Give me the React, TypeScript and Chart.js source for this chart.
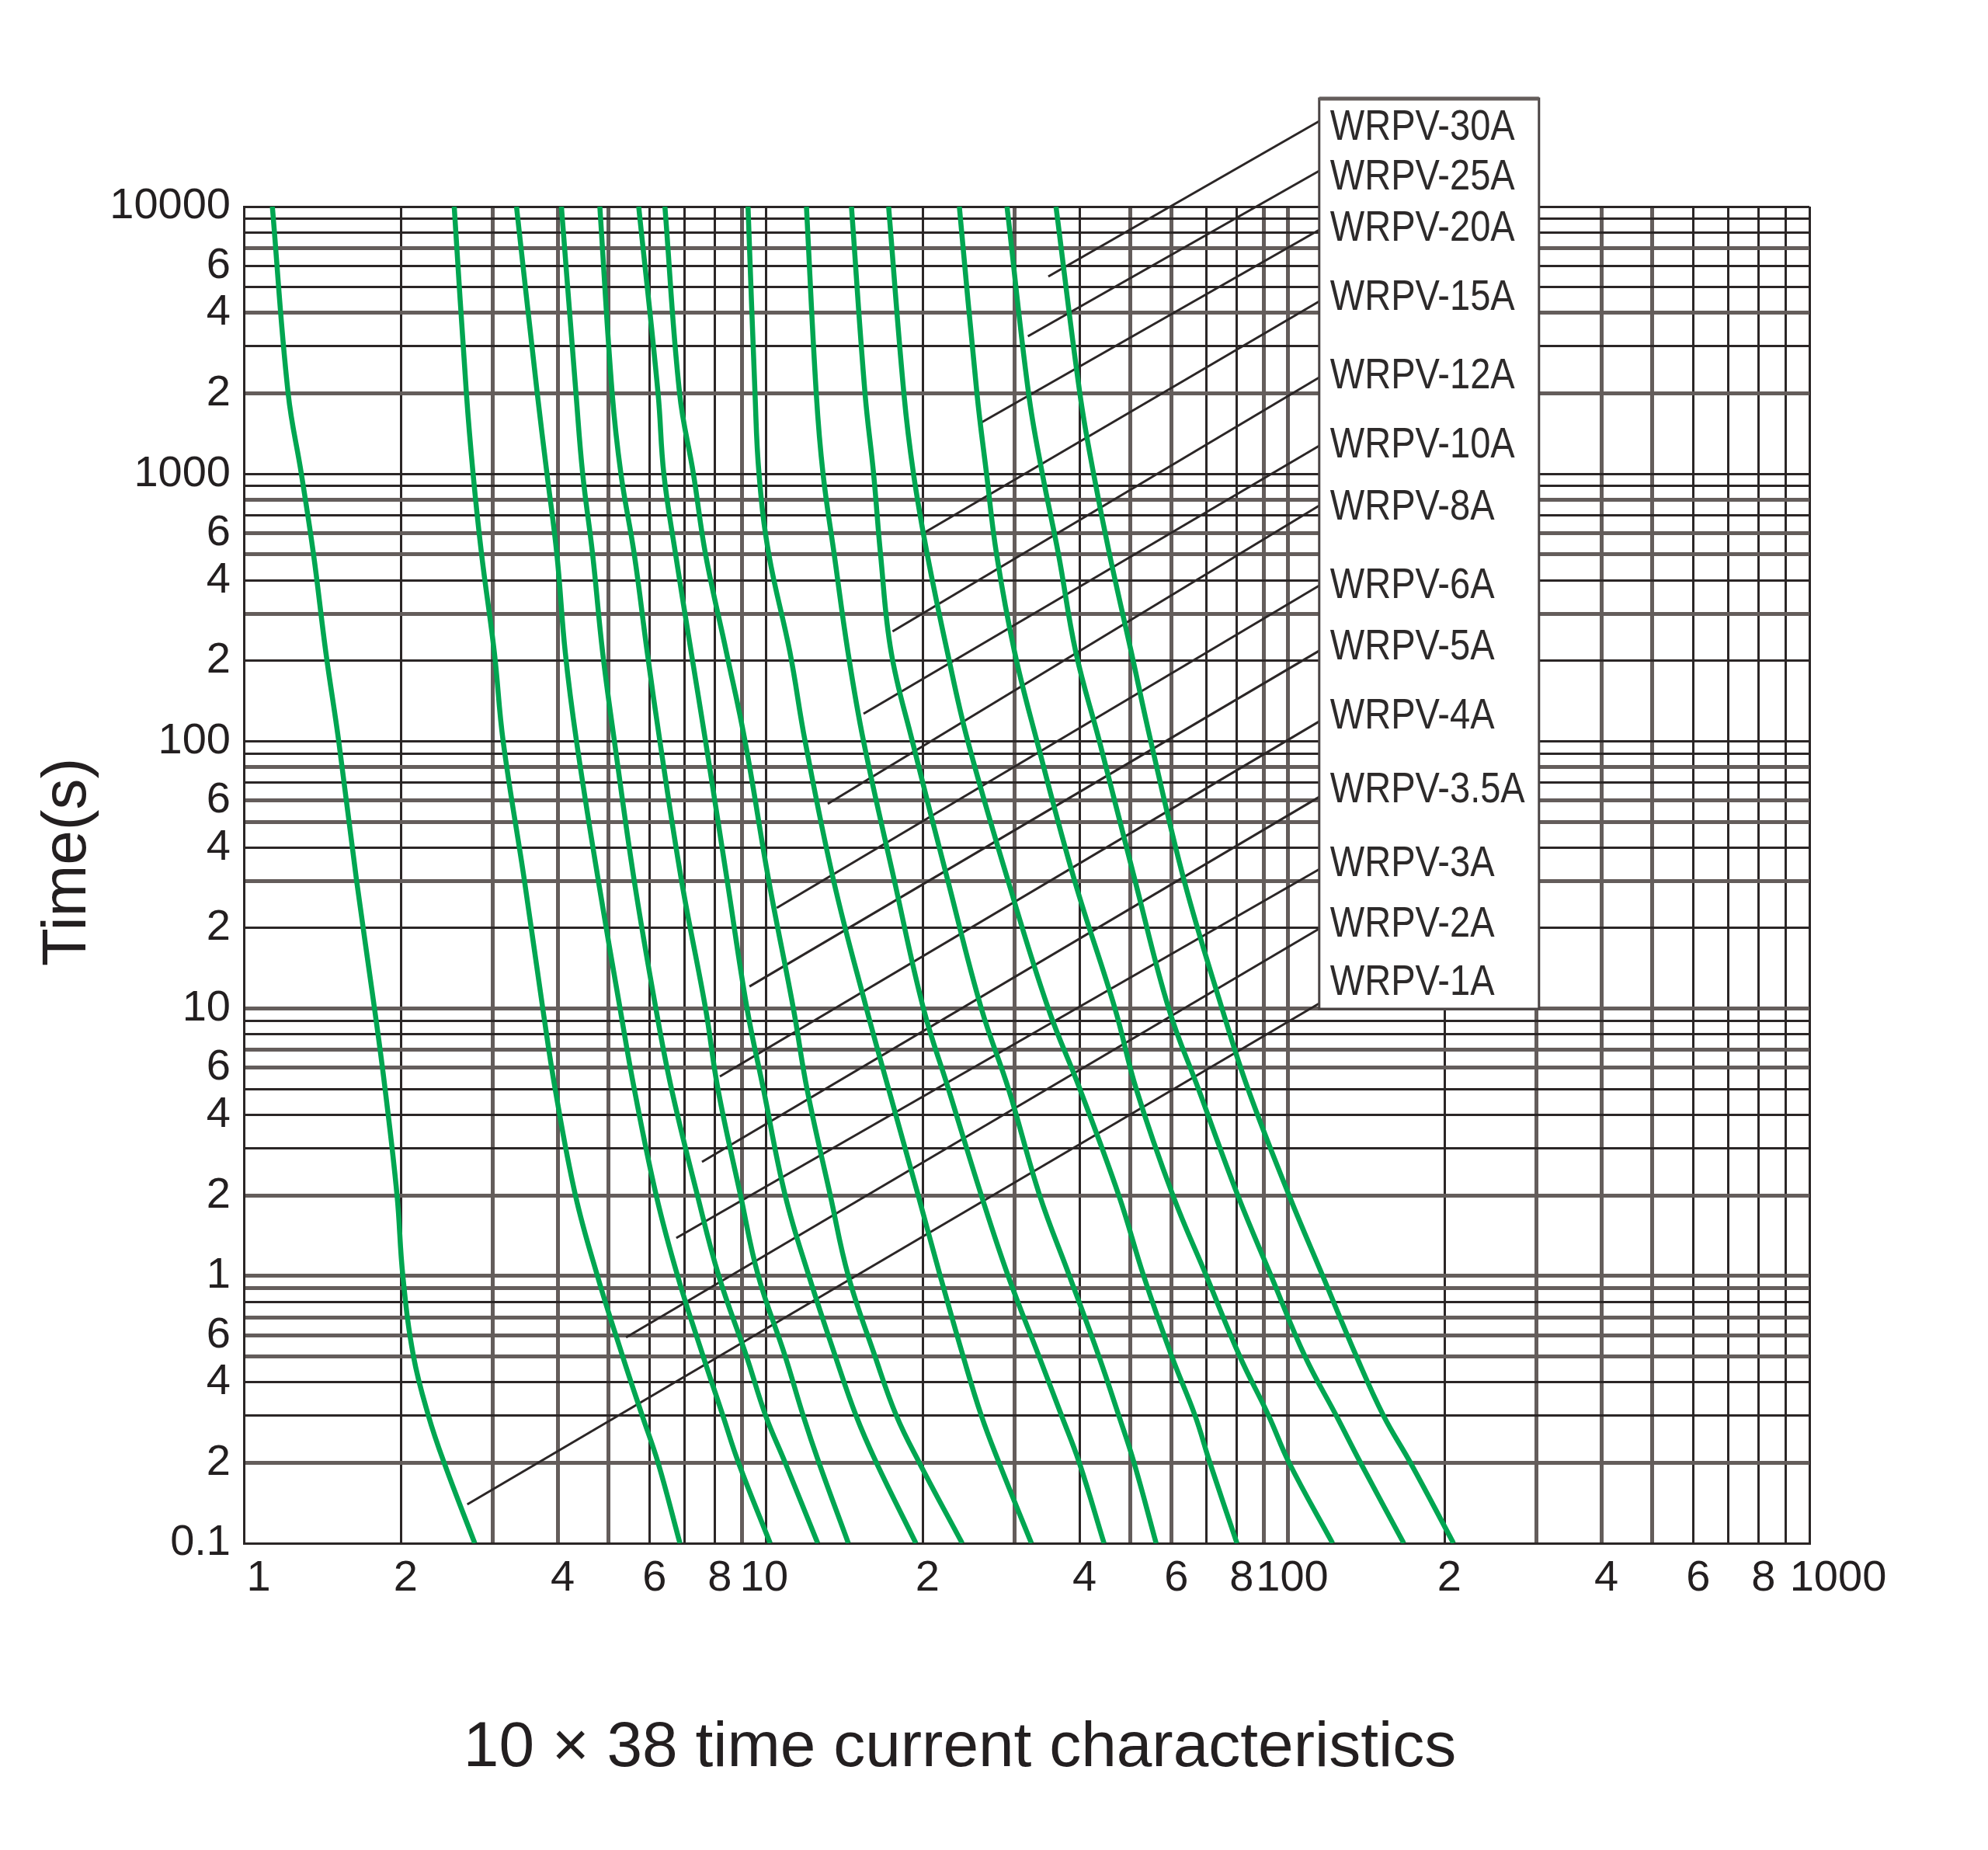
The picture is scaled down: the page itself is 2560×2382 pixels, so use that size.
import React, { useEffect, useRef } from 'react';
import { Chart, registerables } from 'chart.js';

Chart.register(...registerables);

const TIMES = [10000, 2000, 1000, 500, 215, 100, 30, 10, 5, 2, 1, 0.5, 0.3, 0.2, 0.1];

// current (A) at each of TIMES, one array per fuse rating
const WRPV_1A = [1.134, 1.216, 1.289, 1.36, 1.436, 1.52, 1.645, 1.78, 1.865, 1.966, 2.017, 2.114, 2.258, 2.42, 2.77];
const WRPV_2A = [2.53, 2.67, 2.75, 2.855, 3.02, 3.14, 3.45, 3.74, 3.95, 4.32, 4.76, 5.32, 5.8, 6.22, 6.85];
const WRPV_3A = [3.33, 3.65, 3.81, 3.98, 4.13, 4.34, 4.78, 5.26, 5.6, 6.17, 6.78, 7.59, 8.28, 8.87, 10.2];
const WRPV_3_5A = [4.06, 4.33, 4.46, 4.66, 4.87, 5.13, 5.6, 6.16, 6.6, 7.4, 8.13, 9.19, 10.0, 10.9, 12.58];
const WRPV_4A = [4.81, 5.08, 5.28, 5.6, 5.93, 6.27, 6.9, 7.67, 8.1, 8.95, 9.68, 10.9, 11.8, 12.65, 14.4];
const WRPV_5A = [5.71, 6.22, 6.38, 6.72, 7.2, 7.67, 8.44, 9.21, 9.9, 10.9, 12.1, 13.6, 14.9, 16.3, 19.4];
const WRPV_6A = [6.41, 6.84, 7.27, 7.67, 8.41, 9.13, 10.14, 11.3, 12.0, 13.3, 14.4, 16.2, 17.8, 19.7, 23.8];
const WRPV_8A = [9.25, 9.54, 9.71, 10.14, 11.13, 11.9, 13.5, 15.6, 17.2, 19.6, 21.6, 23.9, 25.9, 28.0, 32.3];
const WRPV_10A = [11.97, 12.5, 12.88, 13.53, 14.38, 15.4, 17.65, 20.06, 22.4, 25.9, 29.15, 33.4, 36.9, 39.9, 44.5];
const WRPV_12A = [14.6, 15.5, 16.1, 16.6, 17.4, 19.1, 22.35, 25.9, 29.2, 33.5, 38.2, 43.5, 47.5, 50.8, 56];
const WRPV_15A = [17.2, 18.4, 19.2, 20.4, 22.3, 24.4, 29.15, 34.8, 40, 47.5, 53, 60, 66.5, 71, 80];
const WRPV_20A = [23.5, 25.4, 26.5, 27.7, 30, 33.1, 39.1, 46.7, 51.3, 60.3, 69.9, 81, 92, 100.7, 122];
const WRPV_25A = [29, 31.9, 33.9, 36.4, 39.3, 43.6, 51.05, 59.2, 67.5, 80.3, 93, 108, 124, 138, 167];
const WRPV_30A = [36, 40, 42.5, 45.6, 50.2, 54.7, 63.4, 74.9, 84, 100.7, 116.8, 135.5, 152.7, 172, 208];

const RATINGS = ['1A', '2A', '3A', '3.5A', '4A', '5A', '6A', '8A', '10A', '12A', '15A', '20A', '25A', '30A'];
const CURVES = [WRPV_1A, WRPV_2A, WRPV_3A, WRPV_3_5A, WRPV_4A, WRPV_5A, WRPV_6A, WRPV_8A,
    WRPV_10A, WRPV_12A, WRPV_15A, WRPV_20A, WRPV_25A, WRPV_30A];

// leader lines: start on the label box, end on the sheet (same order as RATINGS)
const LEADER_START_I = 115;
const LEADER_START_T = [10.45, 19.9, 33.2, 61.9, 118.6, 218, 382, 761, 1274, 2296, 4420, 8180, 13600, 20870];
const LEADER_END_I = [2.68, 5.4, 6.74, 7.55, 8.17, 9.31, 10.5, 13.15, 15.4, 17.5, 20.0, 25.9, 31.8, 34.8];
const LEADER_END_T = [0.1397, 0.589, 1.386, 2.67, 5.57, 12.1, 23.8, 58.3, 126.7, 257.5, 598, 1557, 3272, 5475];

const Y_LABEL_VALUES = [10000, 6000, 4000, 2000, 1000, 600, 400, 200, 100, 60, 40, 20, 10, 6, 4, 2, 1, 0.6, 0.4, 0.2, 0.1];
const Y_LABEL_TEXT = ['10000', '6', '4', '2', '1000', '6', '4', '2', '100', '6', '4', '2', '10', '6', '4', '2', '1', '6', '4', '2', '0.1'];
const X_LABEL_VALUES = [1, 2, 4, 6, 8, 10, 20, 40, 60, 80, 100, 200, 400, 600, 800, 1000];
const X_LABEL_TEXT = ['1', '2', '4', '6', '8', '10', '2', '4', '6', '8', '100', '2', '4', '6', '8', '1000'];

const Y_TITLE = 'Time(s)';
const CHART_TITLE = '10 \u00d7 38 time current characteristics';

const FONT = "'Liberation Sans', Arial, sans-serif";
const TEXT = '#231f20';
const DARK = '#2b2626';
const GREY = '#645d5b';
const GREEN = '#00a651';

// scan shows some rulings printed lighter and wider
const GREY_Y = [7000, 4000, 2000, 800, 600, 500, 300, 80, 60, 50, 30, 10, 7, 6, 2, 1, 0.9, 0.7, 0.6, 0.5, 0.2];
const GREY_X = [3, 4, 5, 9, 30, 50, 60, 90, 100, 300, 400, 500];

const gridValues = (from: number, to: number) => {
    const out: number[] = [];
    for (let e = from; e < to; e++) {
        for (let m = 1; m <= 9; m++) out.push(+(m * Math.pow(10, e)).toPrecision(3));
    }
    out.push(Math.pow(10, to));
    return out;
};
const Y_GRID = gridValues(-1, 4);
const X_GRID = gridValues(0, 3);

const same = (a: number, b: number) => Math.abs(Math.log10(a) - Math.log10(b)) < 1e-6;
const inList = (list: number[], v: number) => list.some(x => same(x, v));

const W = 2560;
const H = 2382;

const textPlugin = {
    id: 'fuseText',
    afterDraw(chart: any) {
        const {ctx, chartArea, scales} = chart;
        const xs = scales.x;
        ctx.save();

        // x tick labels
        ctx.fillStyle = TEXT;
        ctx.font = `56px ${FONT}`;
        ctx.textAlign = 'center';
        ctx.textBaseline = 'alphabetic';
        X_LABEL_VALUES.forEach((v, i) => {
            let off = 6;
            if (i === 0) off = 19;
            if (i === 5) off = -2;
            if (i === X_LABEL_VALUES.length - 1) off = 37;
            ctx.fillText(X_LABEL_TEXT[i], xs.getPixelForValue(v) + off, chartArea.bottom + 61);
        });

        // label box
        const boxLeft = xs.getPixelForValue(LEADER_START_I);
        const boxRight = boxLeft + 283;
        const boxTop = 127;
        const boxBottom = 1299;
        ctx.fillStyle = '#ffffff';
        ctx.fillRect(boxLeft, boxTop, boxRight - boxLeft, boxBottom - boxTop);
        ctx.strokeStyle = '#4a4444';
        ctx.lineWidth = 3;
        ctx.strokeRect(boxLeft, boxTop, boxRight - boxLeft, boxBottom - boxTop);
        ctx.strokeStyle = GREY;
        ctx.lineWidth = 5;
        ctx.beginPath();
        ctx.moveTo(boxLeft, boxTop);
        ctx.lineTo(boxRight, boxTop);
        ctx.stroke();

        const rows = [1261, 1186, 1108, 1013, 917.5, 829, 749.5, 649, 569, 479.5, 379, 290, 223.5, 160];
        ctx.fillStyle = '#2d2a2a';
        ctx.font = `56px ${FONT}`;
        ctx.textAlign = 'left';
        RATINGS.forEach((r, i) => {
            ctx.save();
            ctx.translate(boxLeft + 14, rows[i] + 20);
            ctx.scale(0.84, 1);
            ctx.fillText(`WRPV-${r}`, 0, 0);
            ctx.restore();
        });

        // axis title and chart caption
        ctx.fillStyle = TEXT;
        ctx.font = `80px ${FONT}`;
        ctx.textAlign = 'center';
        ctx.save();
        ctx.translate(110, 1110);
        ctx.rotate(-Math.PI / 2);
        ctx.fillText(Y_TITLE, 0, 0);
        ctx.restore();

        ctx.font = `82px ${FONT}`;
        ctx.fillText(CHART_TITLE, 1236, 2274);
        ctx.restore();
    },
};

export default function App() {
    const canvasRef = useRef<HTMLCanvasElement>(null);

    useEffect(() => {
        document.body.style.margin = '0';
        if (!canvasRef.current) return;

        const curveSets = CURVES.map((vals, i) => ({
            label: `WRPV-${RATINGS[i]}`,
            data: vals.map((v, j) => ({x: v, y: TIMES[j]})),
            borderColor: GREEN,
            borderWidth: 6.5,
            pointRadius: 0,
            tension: 0.4,
            fill: false,
            order: 1,
        }));
        const leaderSets = RATINGS.map((r, i) => ({
            label: `leader-${r}`,
            data: [
                {x: LEADER_START_I, y: LEADER_START_T[i]},
                {x: LEADER_END_I[i], y: LEADER_END_T[i]},
            ],
            borderColor: DARK,
            borderWidth: 3,
            pointRadius: 0,
            tension: 0,
            fill: false,
            clip: false,
            order: 2,
        }));

        const chart = new Chart(canvasRef.current, {
            type: 'line',
            data: {datasets: [...leaderSets, ...curveSets] as any},
            options: {
                responsive: false,
                devicePixelRatio: 1,
                animation: false,
                events: [],
                layout: {padding: {top: 266, right: 230, bottom: 0, left: 0}},
                plugins: {legend: {display: false}, tooltip: {enabled: false}},
                scales: {
                    x: {
                        type: 'logarithmic',
                        min: 1,
                        max: 1000,
                        afterBuildTicks: (axis: any) => {
                            axis.ticks = X_GRID.map(v => ({value: v}));
                        },
                        afterFit: (axis: any) => {
                            axis.height = H - 1987;
                        },
                        ticks: {display: false, autoSkip: false},
                        grid: {
                            drawTicks: false,
                            color: (c: any) => (c.tick && inList(GREY_X, c.tick.value) ? GREY : DARK),
                            lineWidth: (c: any) => (c.tick && inList(GREY_X, c.tick.value) ? 5 : 3),
                        },
                        border: {display: true, color: DARK, width: 3},
                    },
                    y: {
                        type: 'logarithmic',
                        min: 0.1,
                        max: 10000,
                        afterBuildTicks: (axis: any) => {
                            axis.ticks = Y_GRID.map(v => ({value: v}));
                        },
                        afterFit: (axis: any) => {
                            axis.width = 314;
                        },
                        ticks: {
                            autoSkip: false,
                            padding: 17,
                            color: TEXT,
                            font: {family: FONT, size: 56},
                            callback: (value: any) => {
                                const idx = Y_LABEL_VALUES.findIndex(v => same(v, Number(value)));
                                return idx >= 0 ? Y_LABEL_TEXT[idx] : '';
                            },
                        },
                        grid: {
                            drawTicks: false,
                            color: (c: any) => (c.tick && inList(GREY_Y, c.tick.value) ? GREY : DARK),
                            lineWidth: (c: any) => (c.tick && inList(GREY_Y, c.tick.value) ? 5 : 3),
                        },
                        border: {display: true, color: DARK, width: 3},
                    },
                },
            },
            plugins: [textPlugin],
        });

        return () => {
            chart.destroy();
        };
    }, []);

    return (
        <div style={{width: W, height: H, background: '#ffffff'}}>
            <canvas ref={canvasRef} width={W} height={H}/>
        </div>
    );
}
